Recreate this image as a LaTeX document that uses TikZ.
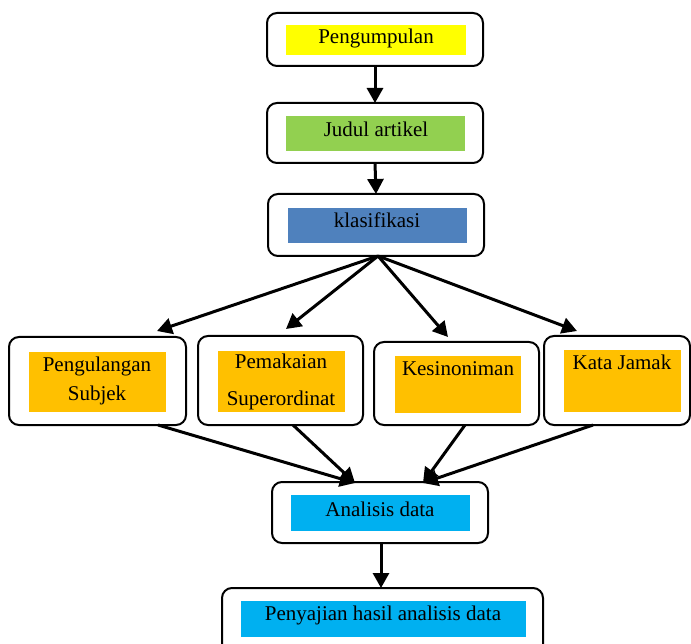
\documentclass[tikz,border=0pt]{standalone}
\usepackage{fontspec}
\setmainfont{Liberation Serif}
\usetikzlibrary{arrows.meta,calc}
\definecolor{cyel}{HTML}{FFFF00}
\definecolor{cgrn}{HTML}{92D050}
\definecolor{cblu}{HTML}{4F81BD}
\definecolor{corg}{HTML}{FFC000}
\definecolor{ccya}{HTML}{00B0F0}
\tikzset{
  outerbox/.style={draw=black, line width=2pt, rounded corners=10pt, fill=white},
  lbl/.style={anchor=base, inner sep=0pt, font=\fontsize{21}{25}\selectfont},
  arr/.style={line width=3pt, -{Triangle[length=15pt,width=16pt]}}
}
\begin{document}
\begin{tikzpicture}[x=1pt,y=-1pt]
\clip (0,0) rectangle (691,644);
\fill[white] (0,0) rectangle (691,644);
% outer boxes
\draw[outerbox] (267,13) rectangle (483,66);
\node[inner sep=0pt, outer sep=0pt, minimum width=216pt, minimum height=53pt] (b1) at (375,39.5) {};
\draw[outerbox] (267,103) rectangle (483,163);
\node[inner sep=0pt, outer sep=0pt, minimum width=216pt, minimum height=60pt] (b2) at (375,133) {};
\draw[outerbox] (268,194) rectangle (484,256);
\node[inner sep=0pt, outer sep=0pt, minimum width=216pt, minimum height=62pt] (b3) at (376,225) {};
\draw[outerbox] (9,337) rectangle (186,425);
\node[inner sep=0pt, outer sep=0pt, minimum width=177pt, minimum height=88pt] (bA) at (97.5,381) {};
\draw[outerbox] (198,336) rectangle (363,425);
\node[inner sep=0pt, outer sep=0pt, minimum width=165pt, minimum height=89pt] (bB) at (280.5,380.5) {};
\draw[outerbox] (374,342) rectangle (539,425);
\node[inner sep=0pt, outer sep=0pt, minimum width=165pt, minimum height=83pt] (bC) at (456.5,383.5) {};
\draw[outerbox] (544,336) rectangle (690,425);
\node[inner sep=0pt, outer sep=0pt, minimum width=146pt, minimum height=89pt] (bD) at (617,380.5) {};
\draw[outerbox] (272,482) rectangle (488,543);
\node[inner sep=0pt, outer sep=0pt, minimum width=216pt, minimum height=61pt] (bE) at (380,512.5) {};
\draw[outerbox] (222,588) rectangle (543,660);
\node[inner sep=0pt, outer sep=0pt, minimum width=321pt, minimum height=72pt] (bF) at (382.5,624) {};
% inner fills
\fill[cyel] (286,25) rectangle (466,55);
\fill[cgrn] (286,116) rectangle (465,151);
\fill[cblu] (288,208) rectangle (467,243);
\fill[corg] (29,352) rectangle (166,412);
\fill[corg] (218,351) rectangle (345,412);
\fill[corg] (395,356) rectangle (521,413);
\fill[corg] (564,350) rectangle (681,412);
\fill[ccya] (291,495) rectangle (470,531);
\fill[ccya] (241,601) rectangle (526,637);
% labels
\node[lbl] (t1) at (376,44) {Pengumpulan};
\node[lbl] (t2) at (376,137) {Judul artikel};
\node[lbl] (t3) at (377,228) {klasifikasi};
\node[lbl] (tA1) at (97,371) {Pengulangan};
\node[lbl] (tA2) at (97,400) {Subjek};
\node[lbl] (tB1) at (281,369) {Pemakaian};
\node[lbl] (tB2) at (281,406) {Superordinat};
\node[lbl] (tC) at (458,376) {Kesinoniman};
\node[lbl] (tD) at (622,370) {Kata Jamak};
\node[lbl] (tE) at (380,516) {Analisis data};
\node[lbl] (tF) at (383,620) {Penyajian hasil analisis data};
% coordinates
\coordinate (fan) at (378,256);
\coordinate (pA) at (157,331);
\coordinate (pB) at (286,329);
\coordinate (pC) at (448,337);
\coordinate (pD) at (577,331);
\coordinate (sA) at (158,425);
\coordinate (sB) at (293,425);
\coordinate (sC) at (465,425);
\coordinate (sD) at (593,425);
\coordinate (eL) at (355,483);
\coordinate (eR) at (423,483);
\coordinate (eS) at (381,543);
\coordinate (fN) at (381,588);
% connectors
\draw[arr] (b1.south) -- (b2.north);
\draw[arr] (b2.south) -- (b3.north);
\draw[arr] (fan) -- (pA);
\draw[arr] (fan) -- (pB);
\draw[arr] (fan) -- (pC);
\draw[arr] (fan) -- (pD);
\draw[arr] (sA) -- (eL);
\draw[arr] (sB) -- (eL);
\draw[arr] (sC) -- (eR);
\draw[arr] (sD) -- (eR);
\draw[arr] (eS) -- (fN);
\end{tikzpicture}
\end{document}
